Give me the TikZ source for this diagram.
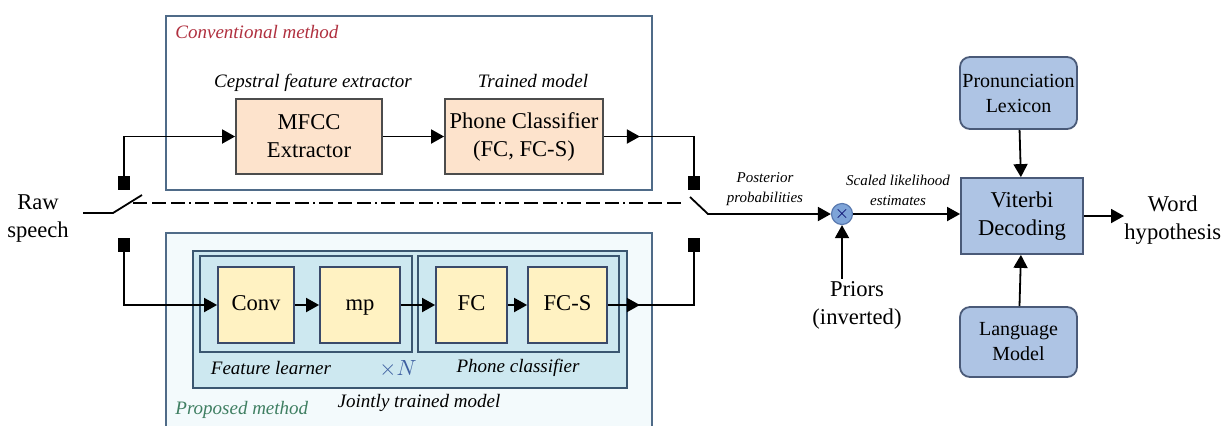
\documentclass[tikz,border=0pt]{standalone}
\usepackage{fontspec}
\setmainfont{Liberation Serif}
\usetikzlibrary{arrows.meta,calc}
\definecolor{convB}{HTML}{4F6B88}
\definecolor{convT}{HTML}{B0303F}
\definecolor{peachF}{HTML}{FDE3CC}
\definecolor{propF}{HTML}{F3FAFC}
\definecolor{jointF}{HTML}{CDE8F0}
\definecolor{jointB}{HTML}{3A5670}
\definecolor{yelF}{HTML}{FFF2C2}
\definecolor{yelB}{HTML}{3A4A6A}
\definecolor{blueF}{HTML}{AEC4E4}
\definecolor{blueB}{HTML}{4A5A78}
\definecolor{circF}{HTML}{7EA4D8}
\definecolor{circB}{HTML}{5A7AB0}
\definecolor{greenT}{HTML}{3F7F62}
\definecolor{xnT}{HTML}{3D5FA0}
\begin{document}
\begin{tikzpicture}[x=0.5pt,y=-0.5pt,
  mainf/.style={font=\fontsize{11.3}{14}\selectfont, align=center},
  lbl/.style={font=\fontsize{9.5}{11}\selectfont\itshape, inner sep=0pt},
  small/.style={font=\fontsize{7.5}{10}\selectfont\itshape, align=center, inner sep=0pt},
  frame/.style={draw=convB, line width=0.9pt, inner sep=0pt},
  peachbox/.style={mainf, draw=black!70, line width=0.9pt, fill=peachF, minimum height=37.5pt, inner sep=0pt},
  yelbox/.style={mainf, draw=yelB, line width=0.9pt, fill=yelF, minimum height=38pt, inner sep=0pt, text height=7.6pt, text depth=2.2pt},
  groupbox/.style={draw=jointB, line width=0.9pt, fill=jointF, inner sep=0pt},
  bluebox/.style={mainf, draw=blueB, line width=0.9pt, fill=blueF, inner sep=0pt},
  sq/.style={fill=black, minimum width=6pt, minimum height=7pt, inner sep=0pt},
  ln/.style={line width=0.9pt},
  arr/.style={line width=0.9pt, -{Triangle[length=6.5pt,width=7pt]}},
  dashdot/.style={line width=0.9pt, dash pattern=on 7pt off 2.5pt on 7pt off 2.5pt on 7pt off 2pt on 1pt off 2pt}
]
\useasboundingbox (0,0) rectangle (1225,425);
\clip (0,0) rectangle (1225,425);
\fill[white] (0,0) rectangle (1225,425);

% Conventional method
\node[frame, fill=white, minimum width=243pt, minimum height=87pt] (convm) at (409,103) {};
\node[lbl, text=convT, anchor=west] (convlbl) at (175,32) {Conventional method};
\node[peachbox, minimum width=73pt] (mfcc) at (309,136.5) {MFCC\\Extractor};
\node[peachbox, minimum width=79pt] (pc) at (524,136.5) {Phone Classifier\\(FC, FC-S)};
\node[lbl] (ceplbl) at (313,83) {Cepstral feature extractor};
\node[lbl] (trlbl) at (533,81) {Trained model};

% Proposed method
\node[frame, fill=propF, minimum width=243pt, minimum height=100pt] (propm) at (409,333) {};
\node[groupbox, minimum width=217pt, minimum height=68.5pt] (joint) at (410,319.5) {};
\node[groupbox, minimum width=106pt, minimum height=48pt] (feat) at (306,304) {};
\node[groupbox, minimum width=100.5pt, minimum height=48pt] (phc) at (518.5,304) {};
\node[yelbox, minimum width=38pt] (conv) at (256,305) {Conv};
\node[yelbox, minimum width=40pt] (mp) at (360,305) {mp};
\node[yelbox, minimum width=35.5pt] (fc) at (471.5,305) {FC};
\node[yelbox, minimum width=39.5pt] (fcs) at (567.5,305) {FC-S};
\node[lbl] (featlbl) at (271,368) {Feature learner};
\node[lbl, text=xnT, font=\fontsize{10.5}{11}\selectfont] (xn) at (398,369) {$\times$$N$};
\node[lbl] (phclbl) at (518,368) {Phone classifier};
\node[lbl] (jointlbl) at (419,403) {Jointly trained model};
\node[lbl, text=greenT, anchor=west] (proplbl) at (175,410) {Proposed method};

% Raw speech and switches
\node[mainf] (raw) at (38,218) {Raw\\speech};
\node[sq] (sqTL) at (124,183) {};
\node[sq] (sqBL) at (124,245) {};
\node[sq] (sqTR) at (694,183) {};
\node[sq] (sqBR) at (694,245) {};
\coordinate (s0) at (83,213);
\coordinate (s1) at (113,213);
\coordinate (s2) at (142,195);
\coordinate (d0) at (133,203);
\coordinate (d1) at (683,203);
\coordinate (r0) at (690,197);
\coordinate (r1) at (708,214);

% Right part
\node[circle, draw=circB, line width=0.6pt, fill=circF, minimum size=10.5pt, inner sep=0pt, text=blue!40!black, font=\fontsize{9}{9}\selectfont] (circ) at (842,214) {$\times$};
\node[bluebox, minimum width=61pt, minimum height=38pt] (vit) at (1022,216) {Viterbi\\Decoding};
\node[bluebox, rounded corners=5pt, minimum width=58.5pt, minimum height=36pt, font=\fontsize{10}{12.5}\selectfont] (lex) at (1018.5,93) {Pronunciation\\Lexicon};
\node[bluebox, rounded corners=5pt, minimum width=58.5pt, minimum height=35pt, font=\fontsize{10}{12.5}\selectfont] (lm) at (1018.5,342) {Language\\Model};
\node[mainf, anchor=west, inner sep=0pt] (word) at (1124,220) {Word\\hypothesis};
\node[mainf, inner sep=1pt] (priors) at (857,305) {Priors\\(inverted)};
\node[small] (postlbl) at (765,189) {Posterior\\probabilities};
\node[small] (scllbl) at (898,190) {Scaled likelihood\\estimates};

% Connectors
\draw[arr] (sqTL.north) |- (mfcc.west);
\draw[arr] (mfcc) -- (pc);
\draw[arr] (pc.east) -- ++(36,0);
\draw[ln] (pc.east) -| (sqTR.north);
\draw[arr] (sqBL.south) |- (conv.west);
\draw[arr] (conv) -- (mp);
\draw[arr] (mp) -- (fc);
\draw[arr] (fc) -- (fcs);
\draw[arr] (fcs.east) -- ++(32,0);
\draw[ln] (fcs.east) -| (sqBR.south);
\draw[ln] (s0) -- (s1) -- (s2);
\draw[dashdot] (d0) -- (d1);
\draw[arr] (r0) -- (r1) -- (circ.west);
\draw[arr] (circ.east) -- (circ.east -| vit.west);
\draw[arr] (priors.north -| circ) -- (circ.south);
\draw[arr] (lex) -- (vit);
\draw[arr] (lm) -- (vit);
\draw[arr] (vit.east) -- (vit.east -| word.west);
\end{tikzpicture}
\end{document}
